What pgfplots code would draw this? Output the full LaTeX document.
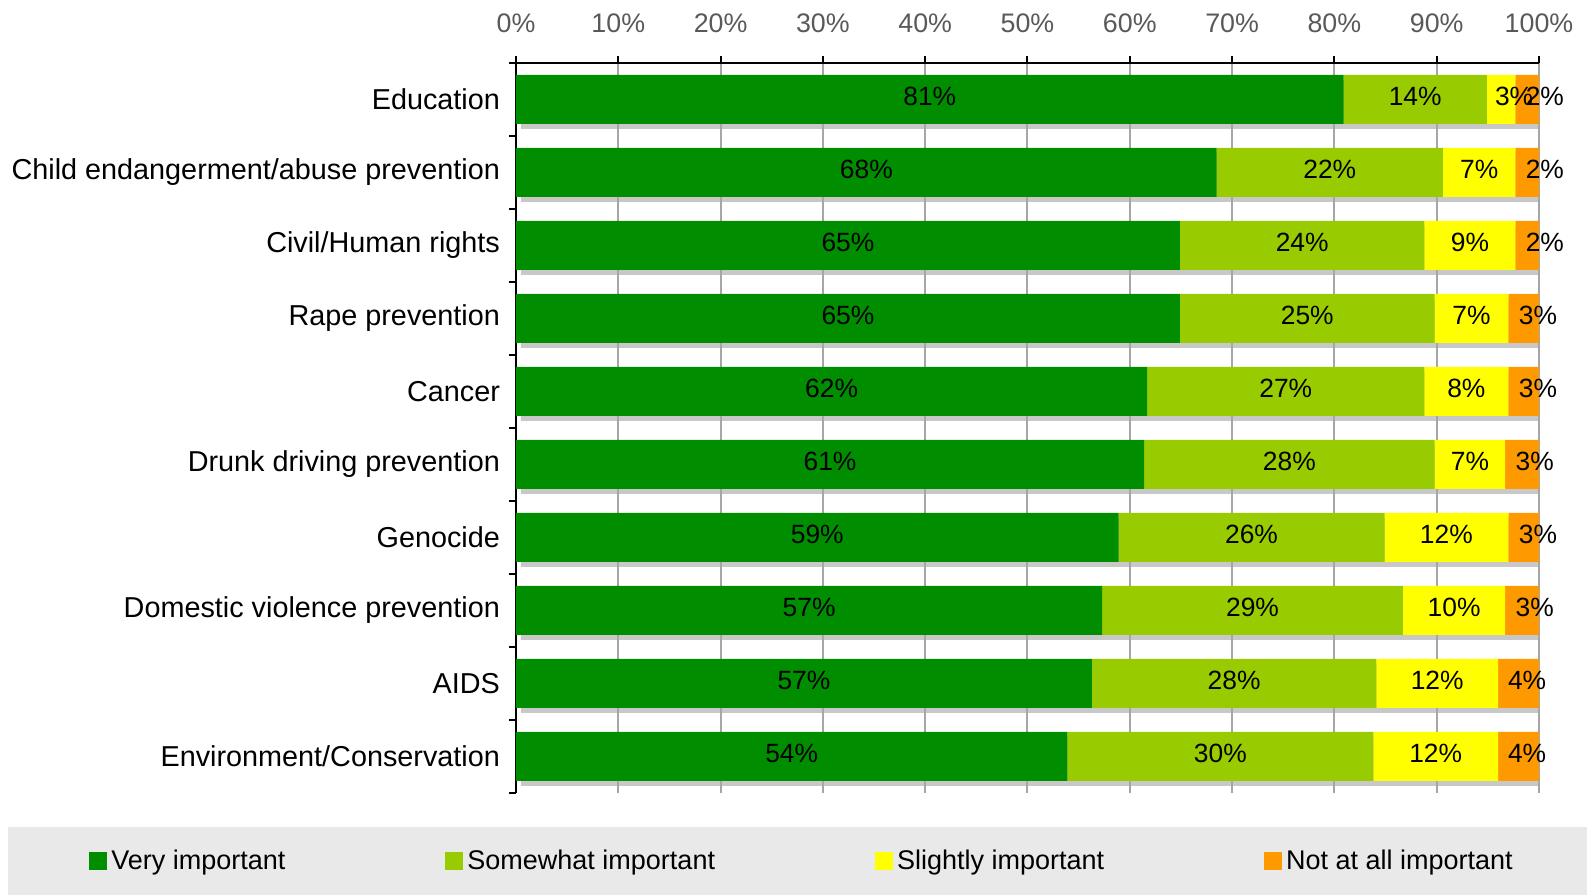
\documentclass[border=0pt]{standalone}
\usepackage{pgfplots}
\pgfplotsset{compat=1.18}
\usepackage{pgfplotstable}
\usepackage{fontspec}
\setmainfont{Liberation Sans}
\definecolor{cvery}{HTML}{008E00}
\definecolor{csome}{HTML}{99CC00}
\definecolor{cslight}{HTML}{FFFF00}
\definecolor{cnot}{HTML}{FF9900}
\definecolor{cshadow}{HTML}{C8C8C8}
\definecolor{cgrid}{HTML}{A6A6A6}
\definecolor{cleg}{HTML}{E9E9E9}
\definecolor{ctick}{HTML}{595959}
\def\dx{0}

% y, value and label of each segment; sc, sd: label offsets (pt) where a label is wider than its segment
\pgfplotstableread{
y a la b lb c lc sc d ld sd
9 80.9 81 14.0 14 2.8 3 6.5 2.3 2 8.8
8 68.5 68 22.1 22 7.1 7 0 2.3 2 8.8
7 64.9 65 23.9 24 8.9 9 0 2.3 2 8.8
6 64.9 65 24.9 25 7.2 7 0 3.0 3 7.2
5 61.7 62 27.1 27 8.2 8 0 3.0 3 7.2
4 61.4 61 28.4 28 6.9 7 0 3.3 3 6.3
3 58.9 59 26.0 26 12.1 12 0 3.0 3 7.2
2 57.3 57 29.4 29 10.0 10 0 3.3 3 6.3
1 56.3 57 27.8 28 11.9 12 0 4.0 4 4.3
0 53.9 54 29.9 30 12.2 12 0 4.0 4 4.3
}\data

\begin{document}
\begin{tikzpicture}
\fill[cleg] (-254pt,-51pt) rectangle (535.5pt,-17pt);
\begin{axis}[name=sh, at={(0,0)}, anchor=south west, scale only axis,
  width=511.5pt, height=365pt, xmin=-0.489, xmax=99.511, ymin=-0.5, ymax=9.5,
  hide axis, xbar, bar width=24.5pt, bar shift=-2.5pt]
\addplot[fill=cshadow, draw=none] table[x expr=\thisrow{a}+\thisrow{b}+\thisrow{c}+\thisrow{d}, y=y] {\data};
\end{axis}
\begin{axis}[name=ax, at={(0,0)}, anchor=south west, scale only axis,
  width=511.5pt, height=365pt, xmin=0, xmax=100, ymin=-0.5, ymax=9.5,
  xbar stacked, bar width=24.5pt,
  axis x line*=top, axis y line*=left,
  axis line style={line width=1.2pt, black, -},
  tick align=outside,
  major tick length=3.5pt,
  tick style={black, line width=1pt},
  xtick={0,10,...,100},
  xticklabels={0\%,10\%,20\%,30\%,40\%,50\%,60\%,70\%,80\%,90\%,100\%},
  xticklabel style={text=ctick, font=\fontsize{13.4}{15}\selectfont, yshift=8pt},
  ytick={-0.5,0.5,...,9.5},
  yticklabels={Environment/Conservation, AIDS, Domestic violence prevention, Genocide, Drunk driving prevention, Cancer, Rape prevention, Civil/Human rights, Child endangerment/abuse prevention, Education, {}},
  yticklabel style={yshift=18.25pt, xshift=-1pt, font=\fontsize{14.4}{16}\selectfont, text=black},
  xmajorgrids, grid style={cgrid, line width=1pt},
  point meta=explicit symbolic,
  nodes near coords={\pgfplotspointmeta\%},
  every node near coord/.append style={anchor=center, yshift=1.5pt, xshift=\dx pt, font=\fontsize{13.2}{15}\selectfont, text=black},
  legend columns=4,
  legend style={at={(-0.4174,-0.09315)}, anchor=west, draw=none, fill=none, inner sep=0pt,
    font=\fontsize{13.5}{16}\selectfont,
    /tikz/every even column/.append style={column sep=78pt}},
  legend cell align=left,
  legend image code/.code={\fill[#1] (0pt,-4.5pt) rectangle (9pt,4.5pt);},
]
\addplot[fill=cvery, draw=none] table[x=a, y=y, meta=la] {\data};
\addplot[fill=csome, draw=none] table[x=b, y=y, meta=lb] {\data};
\addplot[fill=cslight, draw=none, visualization depends on={\thisrow{sc}\as\dx}] table[x=c, y=y, meta=lc] {\data};
\addplot[fill=cnot, draw=none, visualization depends on={\thisrow{sd}\as\dx}] table[x=d, y=y, meta=ld] {\data};
\legend{Very important, Somewhat important, Slightly important, Not at all important}
\end{axis}
\pgfresetboundingbox
\path[use as bounding box] (-258pt,-51pt) rectangle (535.5pt,396.5pt);
\end{tikzpicture}
\end{document}
